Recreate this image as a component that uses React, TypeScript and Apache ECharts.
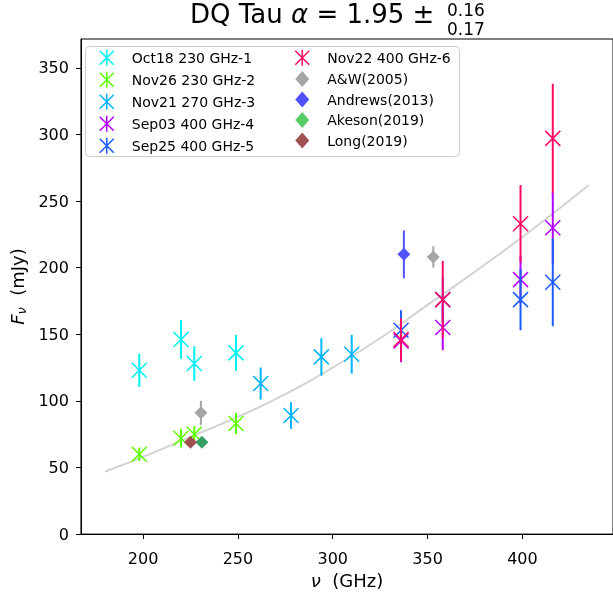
import React, { useEffect, useRef } from "react";
import * as echarts from "echarts";

// ---- data ----
const oct18Freq = [198, 220, 227, 249];
const oct18Flux = [123, 146, 128, 136];
const oct18Err = [12.5, 14.5, 13, 13.5];

const nov26Freq = [198, 220, 227, 249];
const nov26Flux = [60, 72, 75, 83];
const nov26Err = [5, 7, 6, 8];

const nov21Freq = [262, 278, 294, 310];
const nov21Flux = [113, 89, 133, 135];
const nov21Err = [12, 10, 14, 14.5];

const sep03Freq = [336, 358, 399, 416];
const sep03Flux = [145, 155, 191, 230];
const sep03Err = [16, 17, 18, 27];

const sep25Freq = [336, 358, 399, 416];
const sep25Flux = [153, 176, 176, 189];
const sep25Err = [15, 17, 23, 33];

const nov22Freq = [336, 358, 399, 416];
const nov22Flux = [146, 176, 233, 297];
const nov22Err = [16, 29, 29, 41];

const awFreq = [230.5, 353];
const awFlux = [91, 208];
const awErr = [9, 8];

const andrewsFreq = [337.5];
const andrewsFlux = [210];
const andrewsErr = [18];

const akesonFreq = [231];
const akesonFlux = [69];
const akesonErr = [2];

const longFreq = [225];
const longFlux = [69];
const longErr = [2];

const fitFreq = [180, 200, 225, 250, 275, 300, 325, 350, 375, 400, 420, 435];
const fitFlux = [47, 58, 73, 88, 105, 125, 147, 172, 197, 223, 245, 262];

const xTicks = [200, 250, 300, 350, 400];
const yTicks = [0, 50, 100, 150, 200, 250, 300, 350];

const FONT = "DejaVu Sans";
const X_ICON = "path://M0,1L14,15M14,1L0,15M7,0L7,16";
const D_ICON = "path://M7,0L14,8L7,16L0,8Z";

type XS = { name: string; color: string; freq: number[]; flux: number[]; err: number[] };
type DS = { name: string; color: string; legendColor: string; freq: number[]; flux: number[]; err: number[] };

const xSets: XS[] = [
  { name: "Oct18 230 GHz-1", color: "#00f2f2", freq: oct18Freq, flux: oct18Flux, err: oct18Err },
  { name: "Nov26 230 GHz-2", color: "#5cff00", freq: nov26Freq, flux: nov26Flux, err: nov26Err },
  { name: "Nov21 270 GHz-3", color: "#00b4ff", freq: nov21Freq, flux: nov21Flux, err: nov21Err },
  { name: "Sep03 400 GHz-4", color: "#b400ff", freq: sep03Freq, flux: sep03Flux, err: sep03Err },
  { name: "Sep25 400 GHz-5", color: "#1a5cff", freq: sep25Freq, flux: sep25Flux, err: sep25Err },
  { name: "Nov22 400 GHz-6", color: "#ff0a64", freq: nov22Freq, flux: nov22Flux, err: nov22Err },
];

const dSets: DS[] = [
  { name: "A&W(2005)", color: "#a6a6a6", legendColor: "#a6a6a6", freq: awFreq, flux: awFlux, err: awErr },
  { name: "Andrews(2013)", color: "#5252ff", legendColor: "#5050ff", freq: andrewsFreq, flux: andrewsFlux, err: andrewsErr },
  { name: "Akeson(2019)", color: "#36a062", legendColor: "#55cc66", freq: akesonFreq, flux: akesonFlux, err: akesonErr },
  { name: "Long(2019)", color: "#a05050", legendColor: "#a05252", freq: longFreq, flux: longFlux, err: longErr },
];

function xSeries(s: XS) {
  return {
    type: "custom",
    name: s.name,
    data: s.freq.map((f, i) => [f, s.flux[i], s.err[i]]),
    encode: { x: 0, y: 1 },
    itemStyle: { color: s.color },
    z: 3,
    renderItem: (_p: any, api: any) => {
      const x = api.value(0);
      const y = api.value(1);
      const e = api.value(2);
      const c = api.coord([x, y]);
      const t = api.coord([x, y + e]);
      const b = api.coord([x, y - e]);
      const h = 7.5;
      return {
        type: "group",
        children: [
          { type: "line", shape: { x1: t[0], y1: t[1], x2: b[0], y2: b[1] }, style: { stroke: s.color, lineWidth: 2 } },
          { type: "line", shape: { x1: c[0] - h, y1: c[1] - h, x2: c[0] + h, y2: c[1] + h }, style: { stroke: s.color, lineWidth: 1.5 } },
          { type: "line", shape: { x1: c[0] - h, y1: c[1] + h, x2: c[0] + h, y2: c[1] - h }, style: { stroke: s.color, lineWidth: 1.5 } },
        ],
      };
    },
  };
}

function dSeries(s: DS) {
  return {
    type: "custom",
    name: s.name,
    data: s.freq.map((f, i) => [f, s.flux[i], s.err[i]]),
    encode: { x: 0, y: 1 },
    itemStyle: { color: s.color },
    z: 3,
    renderItem: (_p: any, api: any) => {
      const x = api.value(0);
      const y = api.value(1);
      const e = api.value(2);
      const c = api.coord([x, y]);
      const t = api.coord([x, y + e]);
      const b = api.coord([x, y - e]);
      const h = 6.5;
      return {
        type: "group",
        children: [
          { type: "line", shape: { x1: t[0], y1: t[1], x2: b[0], y2: b[1] }, style: { stroke: s.color, lineWidth: 2 } },
          {
            type: "polygon",
            shape: { points: [[c[0], c[1] - h], [c[0] + h, c[1]], [c[0], c[1] + h], [c[0] - h, c[1]]] },
            style: { fill: s.color },
          },
        ],
      };
    },
  };
}

function xLegendItem(s: XS) {
  return { name: s.name, icon: X_ICON, itemStyle: { color: "rgba(0,0,0,0)", borderColor: s.color, borderWidth: 1.5 } };
}
function dLegendItem(s: DS) {
  return { name: s.name, icon: D_ICON, itemStyle: { color: s.legendColor, borderWidth: 0 } };
}

export default function App() {
  const ref = useRef<HTMLDivElement>(null);
  useEffect(() => {
    if (!ref.current) return;
    const chart = echarts.init(ref.current, null, { renderer: "svg" });
    const legendCommon = {
      orient: "vertical",
      top: 49,
      padding: 0,
      itemWidth: 40,
      itemHeight: 16,
      itemGap: 4.5,
      selectedMode: false,
      textStyle: { fontFamily: FONT, fontSize: 14, color: "#000" },
    };
    chart.setOption({
      animation: false,
      textStyle: { fontFamily: FONT },
      grid: { left: 78, top: 39, right: -1, bottom: 57, show: true, borderColor: "#000", borderWidth: 1, containLabel: false },
      xAxis: {
        type: "value",
        min: 167.25,
        max: 447.75,
        name: "{i|ν}  (GHz)",
        nameLocation: "middle",
        nameGap: 32,
        nameTextStyle: {
          fontFamily: FONT,
          fontSize: 18,
          color: "#000",
          rich: { i: { fontFamily: FONT, fontSize: 18, fontStyle: "italic", color: "#000" } },
        },
        axisLine: { lineStyle: { color: "#000", width: 1 } },
        axisTick: { show: true, length: 5, lineStyle: { color: "#000" }, customValues: xTicks },
        axisLabel: { fontFamily: FONT, fontSize: 16, color: "#000", margin: 16, customValues: xTicks },
        splitLine: { show: false },
      },
      yAxis: {
        type: "value",
        min: 0,
        max: 371.6,
        name: "{f|F}{s|ν}  (mJy)",
        nameLocation: "middle",
        nameRotate: 90,
        nameGap: 30,
        nameTextStyle: {
          fontFamily: FONT,
          fontSize: 18,
          color: "#000",
          rich: {
            f: { fontFamily: FONT, fontSize: 18, fontStyle: "italic", color: "#000" },
            s: { fontFamily: FONT, fontSize: 13, fontStyle: "italic", color: "#000", verticalAlign: "bottom", padding: [8, 0, 0, 0] },
          },
        },
        axisLine: { show: true, lineStyle: { color: "#000", width: 1 } },
        axisTick: { show: true, length: 5, lineStyle: { color: "#000" }, customValues: yTicks },
        axisLabel: { fontFamily: FONT, fontSize: 16, color: "#000", margin: 12, customValues: yTicks },
        splitLine: { show: false },
      },
      legend: [
        { ...legendCommon, left: 99, data: xSets.slice(0, 5).map(xLegendItem) },
        { ...legendCommon, left: 294.5, data: [xLegendItem(xSets[5]), ...dSets.map(dLegendItem)] },
      ],
      graphic: [
        {
          type: "rect",
          z: 3,
          shape: { x: 85.5, y: 46.5, width: 374, height: 110, r: 4 },
          style: { fill: "rgba(255,255,255,0.8)", stroke: "#cccccc", lineWidth: 1 },
        },
        {
          type: "text",
          z: 5,
          x: 190,
          y: 1,
          style: {
            text: "{n|DQ Tau }{i|α}{n| = 1.95 ± }",
            rich: {
              n: { fontFamily: FONT, fontSize: 26, fill: "#000" },
              i: { fontFamily: FONT, fontSize: 26, fontStyle: "italic", fill: "#000" },
            },
          },
        },
        {
          type: "text",
          z: 5,
          x: 447,
          y: 1,
          style: { text: "0.16", fontFamily: FONT, fontSize: 17, fill: "#000" },
        },
        {
          type: "text",
          z: 5,
          x: 447,
          y: 20,
          style: { text: "0.17", fontFamily: FONT, fontSize: 17, fill: "#000" },
        },
      ],
      series: [
        {
          type: "line",
          name: "fit",
          data: fitFreq.map((f, i) => [f, fitFlux[i]]),
          smooth: true,
          symbol: "none",
          z: 1,
          lineStyle: { color: "#d3d3d3", width: 2 },
          silent: true,
        },
        ...xSets.map(xSeries),
        ...dSets.map(dSeries),
      ],
    });
    return () => chart.dispose();
  }, []);
  return <div ref={ref} style={{ position: "fixed", left: 0, top: 0, width: 613, height: 594 }} />;
}
